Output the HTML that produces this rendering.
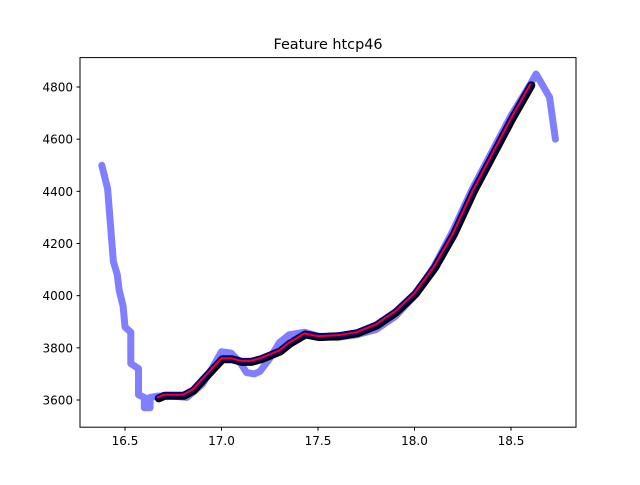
<!DOCTYPE html>
<html><head><meta charset="utf-8"><style>
body{margin:0;background:#fff;}
svg text{font-family:"DejaVu Sans","Liberation Sans",sans-serif;font-size:12px;fill:#000;}
</style></head><body>
<svg id="chart" width="640" height="480" xmlns="http://www.w3.org/2000/svg">
<rect x="0" y="0" width="640" height="480" fill="#fff"/>
<text x="328" y="49" text-anchor="middle" style="font-size:14.4px">Feature htcp46</text>
<g id="plot"></g>
<rect x="80" y="57.6" width="496" height="369.6" fill="none" stroke="#000" stroke-width="1"/>
<g id="axes"></g>
</svg>
<script>
const xTicks=[16.5,17.0,17.5,18.0,18.5];
const yTicks=[3600,3800,4000,4200,4400,4600,4800];
const rawX=[16.38,16.41,16.44,16.46,16.47,16.49,16.5,16.53,16.53,16.57,16.57,16.6,16.6,16.63,16.63,16.67,16.75,16.82,16.9,16.95,17.0,17.05,17.1,17.13,17.17,17.2,17.25,17.3,17.35,17.43,17.5,17.6,17.7,17.8,17.9,18.0,18.1,18.2,18.3,18.4,18.5,18.6,18.63,18.7,18.73];
const rawY=[4500,4410,4130,4080,4020,3960,3880,3860,3740,3720,3620,3610,3570,3570,3610,3615,3615,3610,3660,3720,3785,3780,3740,3705,3700,3710,3760,3820,3850,3860,3845,3840,3850,3870,3920,4000,4110,4250,4410,4550,4690,4810,4850,4760,4600];
const fitX=[16.67,16.7,16.8,16.85,16.9,16.95,17.0,17.05,17.1,17.15,17.2,17.3,17.35,17.43,17.5,17.6,17.7,17.8,17.9,18.0,18.1,18.2,18.3,18.4,18.5,18.6];
const fitY=[3610,3620,3620,3640,3680,3720,3760,3760,3750,3750,3760,3790,3820,3855,3845,3848,3860,3890,3940,4010,4110,4240,4400,4540,4680,4810];
const sx=v=>125+(v-16.5)*193;
const sy=v=>400-(v-3600)*313/1200;
const NS="http://www.w3.org/2000/svg";
const plot=document.getElementById('plot');
const axes=document.getElementById('axes');
function pts(xs,ys,dx,dy){return xs.map((x,i)=>(sx(x)+dx).toFixed(1)+','+(sy(ys[i])+dy).toFixed(1)).join(' ');}
function line(xs,ys,color,w,op,name,dx,dy){
  const p=document.createElementNS(NS,'polyline');
  p.setAttribute('points',pts(xs,ys,dx||0,dy||0));
  p.setAttribute('fill','none');p.setAttribute('stroke',color);
  p.setAttribute('stroke-width',w);p.setAttribute('stroke-opacity',op);
  p.setAttribute('stroke-linejoin','round');p.setAttribute('stroke-linecap','round');
  
  
  plot.appendChild(p);
}
line(rawX,rawY,'#0000ff',7,0.5,'raw-series');
line(fitX,fitY,'#000',8,1,'fit-black',1,1);
line(fitX,fitY,'#00008b',5.5,1,'fit-navy');
line(fitX,fitY,'#ff0000',2,1,'fit-red');
xTicks.forEach(t=>{
  const x=sx(t);
  const l=document.createElementNS(NS,'line');
  l.setAttribute('x1',x);l.setAttribute('x2',x);l.setAttribute('y1',427.2);l.setAttribute('y2',430.7);l.setAttribute('stroke','#000');
  
  
  axes.appendChild(l);
  const tx=document.createElementNS(NS,'text');
  tx.setAttribute('x',x);tx.setAttribute('y',445);tx.setAttribute('text-anchor','middle');
  tx.textContent=t.toFixed(1);
  
  
  axes.appendChild(tx);
});
yTicks.forEach(t=>{
  const y=sy(t);
  const l=document.createElementNS(NS,'line');
  l.setAttribute('x1',76.5);l.setAttribute('x2',80);l.setAttribute('y1',y);l.setAttribute('y2',y);l.setAttribute('stroke','#000');
  
  
  axes.appendChild(l);
  const tx=document.createElementNS(NS,'text');
  tx.setAttribute('x',73);tx.setAttribute('y',y+4.5);tx.setAttribute('text-anchor','end');
  tx.textContent=t;
  
  
  axes.appendChild(tx);
});
</script>
</body></html>
